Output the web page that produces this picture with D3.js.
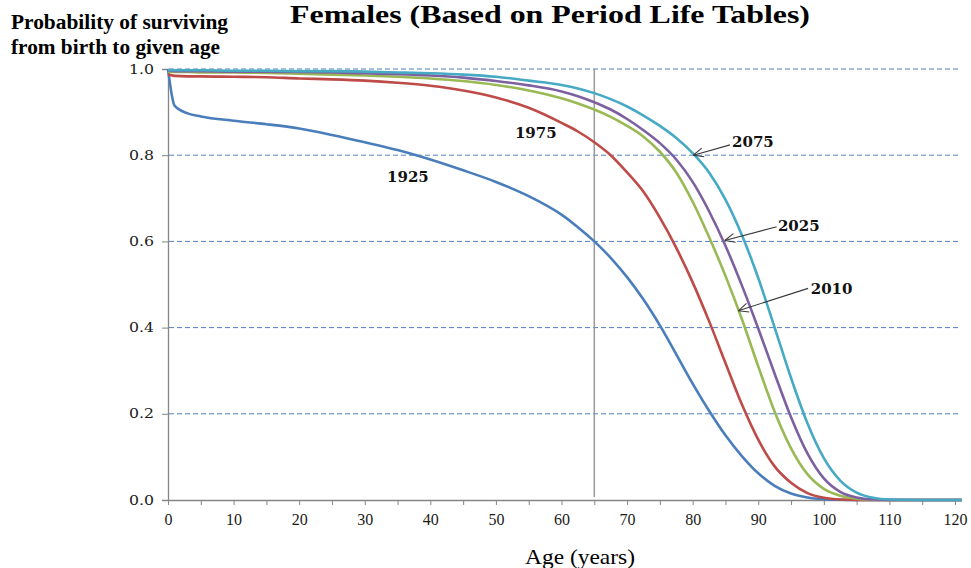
<!DOCTYPE html>
<html>
<head>
<meta charset="utf-8">
<script src="https://cdn.jsdelivr.net/npm/d3@7"></script>
<style>
  html, body { margin: 0; padding: 0; background: #fff; }
  svg { display: block; }
</style>
</head>
<body>
<svg id="chart" width="971" height="568"></svg>
<script>
// ---------------- data ----------------
const ages = [0, 1, 3, 5, 10, 15, 20, 25, 30, 35, 40, 45, 50, 55, 60, 62.5, 65, 67.5, 70, 72.5, 75, 77.5, 80, 82.5, 85, 87.5, 90, 92.5, 95, 97.5, 100, 102.5, 105, 107.5, 110, 115, 121];

const s1925 = [1.000, 0.915, 0.897, 0.890, 0.880, 0.872, 0.862, 0.847, 0.830, 0.812, 0.790, 0.765, 0.738, 0.705, 0.662, 0.633, 0.600, 0.562, 0.517, 0.465, 0.405, 0.338, 0.270, 0.207, 0.150, 0.102, 0.062, 0.033, 0.015, 0.006, 0.002, 0.0005, 0, 0, 0, 0, 0];
const s1975 = [0.987, 0.984, 0.983, 0.983, 0.982, 0.981, 0.978, 0.976, 0.973, 0.968, 0.961, 0.950, 0.934, 0.910, 0.875, 0.855, 0.830, 0.800, 0.760, 0.715, 0.655, 0.585, 0.505, 0.415, 0.318, 0.222, 0.140, 0.078, 0.040, 0.016, 0.005, 0.001, 0, 0, 0, 0, 0];
const s2010 = [0.994, 0.993, 0.993, 0.992, 0.992, 0.991, 0.989, 0.987, 0.985, 0.982, 0.978, 0.972, 0.963, 0.950, 0.932, 0.920, 0.906, 0.889, 0.868, 0.843, 0.808, 0.760, 0.692, 0.610, 0.520, 0.420, 0.310, 0.205, 0.120, 0.060, 0.026, 0.010, 0.003, 0.0005, 0, 0, 0];
const s2025 = [0.996, 0.995, 0.995, 0.995, 0.994, 0.994, 0.993, 0.992, 0.990, 0.988, 0.985, 0.980, 0.972, 0.962, 0.948, 0.937, 0.923, 0.906, 0.884, 0.858, 0.828, 0.790, 0.738, 0.670, 0.590, 0.498, 0.398, 0.293, 0.192, 0.108, 0.050, 0.019, 0.006, 0.001, 0, 0, 0];
const s2075 = [0.997, 0.997, 0.997, 0.997, 0.996, 0.996, 0.995, 0.995, 0.994, 0.992, 0.990, 0.987, 0.982, 0.973, 0.963, 0.955, 0.944, 0.930, 0.913, 0.892, 0.868, 0.840, 0.805, 0.760, 0.697, 0.615, 0.515, 0.400, 0.283, 0.178, 0.097, 0.045, 0.017, 0.005, 0.001, 0, 0];

const seriesNames = ["1925", "1975", "2010", "2025", "2075"];
const seriesValues = [s1925, s1975, s2010, s2025, s2075];
const seriesColors = ["#4a7ebb", "#be4b48", "#98b954", "#7d60a0", "#46aac5"];

const xTicks = [0, 5, 10, 15, 20, 25, 30, 35, 40, 45, 50, 55, 60, 65, 70, 75, 80, 85, 90, 95, 100, 105, 110, 115, 120];
const yTicks = [0, 0.2, 0.4, 0.6, 0.8, 1.0];
const markerAge = 65;

const titleText = "Females (Based on Period Life Tables)";
const yTitleLines = ["Probability of surviving", "from birth to given age"];
const xTitleText = "Age (years)";

// label annotations (age/probability coordinates)
const plainLabels = [
  { text: "1975", age: 52.9, value: 0.839 },
  { text: "1925", age: 33.4, value: 0.7385 }
];
const arrowLabels = [
  { text: "2075", age: 86.0, value: 0.819, fromAge: 85.7, fromValue: 0.824, toAge: 80.1, toValue: 0.800 },
  { text: "2025", age: 93.0, value: 0.623, fromAge: 92.8, fromValue: 0.634, toAge: 84.9, toValue: 0.602 },
  { text: "2010", age: 98.0, value: 0.479, fromAge: 97.6, fromValue: 0.491, toAge: 86.96, toValue: 0.439 }
];

// ---------------- drawing ----------------
const svg = d3.select("#chart");
const x0 = 168, x120 = 955;
const pxPerYear = (x120 - x0) / 120;
const xMax = 121;
const x = d3.scaleLinear().domain([0, xMax]).range([x0, x0 + pxPerYear * xMax]);
const y = d3.scaleLinear().domain([0, 1]).range([500, 69]);

const axisColor = "#868686";
const serif = "'Liberation Serif', 'Times New Roman', serif";

// gridlines
svg.append("g").selectAll("line").data(yTicks.filter(d => d > 0)).join("line")
  .attr("x1", x(0) + 1).attr("x2", x(xMax) - 1)
  .attr("y1", d => y(d)).attr("y2", d => y(d))
  .attr("stroke", "#4f81c4").attr("stroke-width", 1)
  .attr("stroke-dasharray", "5,3");

// vertical marker at 65
svg.append("line")
  .attr("x1", x(markerAge)).attr("x2", x(markerAge))
  .attr("y1", y(1)).attr("y2", y(0) - 3)
  .attr("stroke", "#9a9a9a").attr("stroke-width", 1.5);

// y axis
const yAxis = d3.axisLeft(y).tickValues(yTicks).tickFormat(d3.format(".1f")).tickSize(6).tickPadding(8);
const gy = svg.append("g").attr("transform", `translate(${x0},0)`).call(yAxis);
gy.select(".domain").attr("stroke", axisColor).attr("stroke-width", 1.3);
gy.selectAll(".tick line").attr("stroke", axisColor);
gy.selectAll(".tick text")
  .attr("font-family", "'DejaVu Serif', serif")
  .attr("font-size", 13)
  .attr("fill", "#1a1a1a")
  .attr("textLength", 25).attr("lengthAdjust", "spacingAndGlyphs");

// x axis
const xAxis = d3.axisBottom(x).tickValues(xTicks)
  .tickFormat(d => (d % 10 === 0 ? String(d) : ""))
  .tickSize(5).tickPadding(9).tickSizeOuter(0);
const gx = svg.append("g").attr("transform", `translate(0,${y(0)})`).call(xAxis);
gx.select(".domain").attr("stroke", axisColor).attr("stroke-width", 1.3);
gx.selectAll(".tick line").attr("stroke", axisColor);
gx.selectAll(".tick text")
  .attr("font-family", serif)
  .attr("font-size", 16)
  .attr("fill", "#1a1a1a");

// lines
const line = d3.line()
  .x((d, i) => x(ages[i]))
  .y(d => y(d))
  .curve(d3.curveMonotoneX);

svg.append("g").selectAll("path").data(seriesValues).join("path")
  .attr("d", d => line(d))
  .attr("fill", "none")
  .attr("stroke", (d, i) => seriesColors[i])
  .attr("stroke-width", 2.6)
  .attr("stroke-linejoin", "round");

// annotation labels
const labelFont = "'DejaVu Serif', serif";
svg.append("g").selectAll("text").data(plainLabels.concat(arrowLabels)).join("text")
  .attr("x", d => x(d.age)).attr("y", d => y(d.value))
  .attr("font-family", labelFont).attr("font-weight", "bold").attr("font-size", 15)
  .attr("fill", "#111")
  .text(d => d.text);

// arrows
const ag = svg.append("g");
arrowLabels.forEach(a => {
  const x1 = x(a.fromAge), y1 = y(a.fromValue), x2 = x(a.toAge), y2 = y(a.toValue);
  ag.append("line").attr("x1", x1).attr("y1", y1).attr("x2", x2).attr("y2", y2)
    .attr("stroke", "#3a3a3a").attr("stroke-width", 1.1);
  const ang = Math.atan2(y1 - y2, x1 - x2);
  const len = 11, spread = 0.42;
  [ang - spread, ang + spread].forEach(t => {
    ag.append("line").attr("x1", x2).attr("y1", y2)
      .attr("x2", x2 + len * Math.cos(t)).attr("y2", y2 + len * Math.sin(t))
      .attr("stroke", "#3a3a3a").attr("stroke-width", 1.1);
  });
});

// titles
svg.append("text")
  .attr("x", 290).attr("y", 23)
  .attr("font-family", serif).attr("font-weight", "bold").attr("font-size", 25)
  .attr("textLength", 520).attr("lengthAdjust", "spacingAndGlyphs")
  .attr("fill", "#000")
  .text(titleText);

svg.append("g").selectAll("text").data(yTitleLines).join("text")
  .attr("x", 11).attr("y", (d, i) => 29 + i * 24.5)
  .attr("font-family", serif).attr("font-weight", "bold").attr("font-size", 20)
  .attr("textLength", (d, i) => (i === 0 ? 217 : 209)).attr("lengthAdjust", "spacingAndGlyphs")
  .attr("fill", "#000")
  .text(d => d);

svg.append("text")
  .attr("x", 525).attr("y", 564)
  .attr("font-family", serif).attr("font-size", 22)
  .attr("textLength", 110).attr("lengthAdjust", "spacingAndGlyphs")
  .attr("fill", "#000")
  .text(xTitleText);
</script>
</body>
</html>
